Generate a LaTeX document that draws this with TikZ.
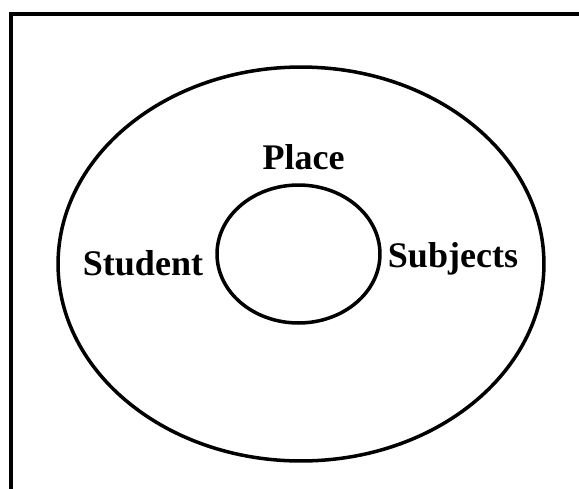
\documentclass[tikz,border=0pt]{standalone}
\usepackage{fontspec}
\setmainfont{Liberation Serif}
\usetikzlibrary{shapes.geometric}

\begin{document}
\begin{tikzpicture}[x=0.02cm, y=-0.02cm,
  ring/.style={draw, ellipse, line width=2pt, inner sep=0pt},
  lbl/.style={anchor=base, inner sep=0pt, font=\fontsize{20.5}{24}\selectfont\bfseries}
]
  \useasboundingbox (0,0) rectangle (579,488);
  \draw[line width=2.6pt] (11,490) -- (11,14) -- (581,14);

  \node[ring, minimum width=9.72cm, minimum height=7.88cm] (outer) at (301,264) {};
  \node[ring, minimum width=3.26cm, minimum height=2.76cm] (inner) at (298.5,254) {};

  \node[lbl] (place) at (303.5,169) {Place};
  \node[lbl] (student) at (143,275) {Student};
  \node[lbl] (subjects) at (453,267) {Subjects};
\end{tikzpicture}
\end{document}
